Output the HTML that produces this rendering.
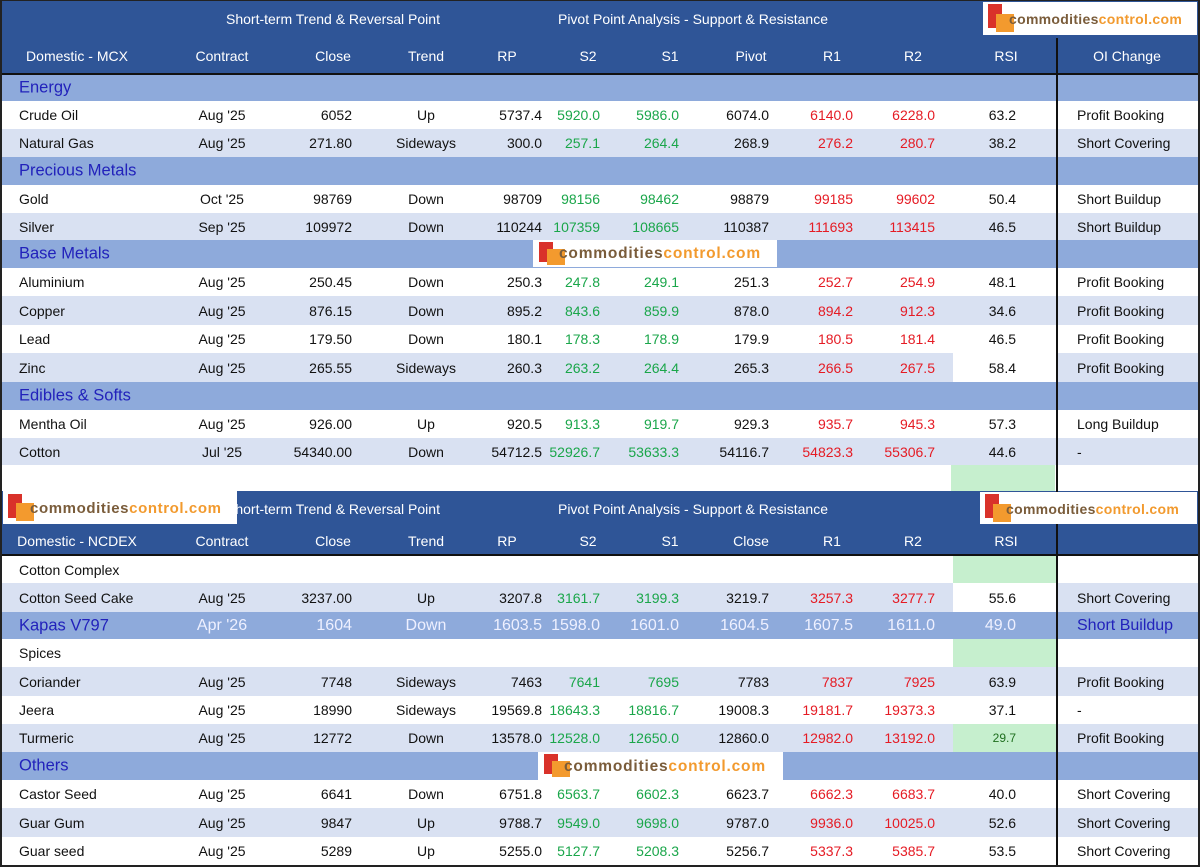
<!DOCTYPE html>
<html><head><meta charset="utf-8"><style>
*{margin:0;padding:0;box-sizing:border-box}
body{width:1200px;height:867px;background:#fff;position:relative;overflow:hidden;font-family:"Liberation Sans",Arial,sans-serif;font-size:14px;color:#111}
.r{position:absolute;left:2px;width:1196px;}
.r span{position:absolute;top:50%;transform:translateY(-50%);white-space:nowrap}
.w{background:#fff}.l{background:#d9e1f2}.k{background:#8eaadb}.h{background:#2f5597;color:#fff}
.cat{color:#2222bb;font-size:16.5px}
.c0{left:17px}
.c1{left:170px;width:100px;text-align:center}
.c2{left:250px;width:100px;text-align:right}
.c3{left:374px;width:100px;text-align:center}
.c4{left:440px;width:100px;text-align:right}
.c5{left:498px;width:100px;text-align:right;color:#1aa64a}
.c6{left:577px;width:100px;text-align:right;color:#1aa64a}
.c7{left:667px;width:100px;text-align:right}
.c8{left:751px;width:100px;text-align:right;color:#e51b24}
.c9{left:833px;width:100px;text-align:right;color:#e51b24}
.c10{left:914px;width:100px;text-align:right}
.c11{left:1075px}
.hc{width:140px;text-align:center;margin-left:-70px}
.g{position:absolute;left:951px;width:104px;background:#c6efce}
.wc{position:absolute;left:951px;width:104px;background:#fff;top:0;bottom:0}
.vl{position:absolute;left:1056px;width:2px;background:#111}
.logo{position:absolute;background:#fff;overflow:hidden}
.logo .b1{position:absolute;background:#d9322a}
.logo .b2{position:absolute;background:#f39a2e}
.logo .t{position:absolute;font-weight:bold;font-size:14px;letter-spacing:0.3px;white-space:nowrap}
.logo .t b{color:#7a5c3a}.logo .t i{font-style:normal;color:#f29a2e}
.kap span{color:#eef0ff}
</style></head><body>
<div class="r h" style="top:0;height:74px;left:0;width:1200px">
<span style="left:333px;top:19px;width:300px;margin-left:-150px;text-align:center">Short-term Trend &amp; Reversal Point</span>
<span style="left:693px;top:19px;width:330px;margin-left:-165px;text-align:center">Pivot Point Analysis - Support &amp; Resistance</span>
<span class="hc" style="left:77px;top:56px">Domestic - MCX</span>
<span class="hc" style="left:222px;top:56px">Contract</span>
<span class="hc" style="left:333px;top:56px">Close</span>
<span class="hc" style="left:426px;top:56px">Trend</span>
<span class="hc" style="left:507px;top:56px">RP</span>
<span class="hc" style="left:588px;top:56px">S2</span>
<span class="hc" style="left:670px;top:56px">S1</span>
<span class="hc" style="left:751px;top:56px">Pivot</span>
<span class="hc" style="left:832px;top:56px">R1</span>
<span class="hc" style="left:913px;top:56px">R2</span>
<span class="hc" style="left:1006px;top:56px">RSI</span>
<span class="hc" style="left:1127px;top:56px">OI Change</span>
</div>
<div style="position:absolute;left:0;top:73px;width:1200px;height:2px;background:#111"></div>

<div class="r k" style="top:75px;height:26px"><span class="c0 cat">Energy</span></div>
<div class="r w" style="top:101px;height:28px"><span class="c0">Crude Oil</span><span class="c1">Aug '25</span><span class="c2">6052</span><span class="c3">Up</span><span class="c4">5737.4</span><span class="c5">5920.0</span><span class="c6">5986.0</span><span class="c7">6074.0</span><span class="c8">6140.0</span><span class="c9">6228.0</span><span class="c10">63.2</span><span class="c11">Profit Booking</span></div>
<div class="r l" style="top:129px;height:28px"><span class="c0">Natural Gas</span><span class="c1">Aug '25</span><span class="c2">271.80</span><span class="c3">Sideways</span><span class="c4">300.0</span><span class="c5">257.1</span><span class="c6">264.4</span><span class="c7">268.9</span><span class="c8">276.2</span><span class="c9">280.7</span><span class="c10">38.2</span><span class="c11">Short Covering</span></div>
<div class="r k" style="top:157px;height:28px"><span class="c0 cat">Precious Metals</span></div>
<div class="r w" style="top:185px;height:28px"><span class="c0">Gold</span><span class="c1">Oct '25</span><span class="c2">98769</span><span class="c3">Down</span><span class="c4">98709</span><span class="c5">98156</span><span class="c6">98462</span><span class="c7">98879</span><span class="c8">99185</span><span class="c9">99602</span><span class="c10">50.4</span><span class="c11">Short Buildup</span></div>
<div class="r l" style="top:213px;height:27px"><span class="c0">Silver</span><span class="c1">Sep '25</span><span class="c2">109972</span><span class="c3">Down</span><span class="c4">110244</span><span class="c5">107359</span><span class="c6">108665</span><span class="c7">110387</span><span class="c8">111693</span><span class="c9">113415</span><span class="c10">46.5</span><span class="c11">Short Buildup</span></div>
<div class="r k" style="top:240px;height:28px"><span class="c0 cat">Base Metals</span></div>
<div class="r w" style="top:268px;height:28px"><span class="c0">Aluminium</span><span class="c1">Aug '25</span><span class="c2">250.45</span><span class="c3">Down</span><span class="c4">250.3</span><span class="c5">247.8</span><span class="c6">249.1</span><span class="c7">251.3</span><span class="c8">252.7</span><span class="c9">254.9</span><span class="c10">48.1</span><span class="c11">Profit Booking</span></div>
<div class="r l" style="top:296px;height:29px"><span class="c0">Copper</span><span class="c1">Aug '25</span><span class="c2">876.15</span><span class="c3">Down</span><span class="c4">895.2</span><span class="c5">843.6</span><span class="c6">859.9</span><span class="c7">878.0</span><span class="c8">894.2</span><span class="c9">912.3</span><span class="c10">34.6</span><span class="c11">Profit Booking</span></div>
<div class="r w" style="top:325px;height:28px"><span class="c0">Lead</span><span class="c1">Aug '25</span><span class="c2">179.50</span><span class="c3">Down</span><span class="c4">180.1</span><span class="c5">178.3</span><span class="c6">178.9</span><span class="c7">179.9</span><span class="c8">180.5</span><span class="c9">181.4</span><span class="c10">46.5</span><span class="c11">Profit Booking</span></div>
<div class="r l" style="top:353px;height:29px"><div class="wc"></div><span class="c0">Zinc</span><span class="c1">Aug '25</span><span class="c2">265.55</span><span class="c3">Sideways</span><span class="c4">260.3</span><span class="c5">263.2</span><span class="c6">264.4</span><span class="c7">265.3</span><span class="c8">266.5</span><span class="c9">267.5</span><span class="c10">58.4</span><span class="c11">Profit Booking</span></div>
<div class="r k" style="top:382px;height:28px"><span class="c0 cat">Edibles &amp; Softs</span></div>
<div class="r w" style="top:410px;height:28px"><span class="c0">Mentha Oil</span><span class="c1">Aug '25</span><span class="c2">926.00</span><span class="c3">Up</span><span class="c4">920.5</span><span class="c5">913.3</span><span class="c6">919.7</span><span class="c7">929.3</span><span class="c8">935.7</span><span class="c9">945.3</span><span class="c10">57.3</span><span class="c11">Long Buildup</span></div>
<div class="r l" style="top:438px;height:27px"><span class="c0">Cotton</span><span class="c1">Jul '25</span><span class="c2">54340.00</span><span class="c3">Down</span><span class="c4">54712.5</span><span class="c5">52926.7</span><span class="c6">53633.3</span><span class="c7">54116.7</span><span class="c8">54823.3</span><span class="c9">55306.7</span><span class="c10">44.6</span><span class="c11">-</span></div>
<div class="g" style="top:465px;height:26px"></div>

<div class="r h" style="top:491px;height:64px;left:0;width:1200px">
<span style="left:333px;top:18px;width:300px;margin-left:-150px;text-align:center">Short-term Trend &amp; Reversal Point</span>
<span style="left:693px;top:18px;width:330px;margin-left:-165px;text-align:center">Pivot Point Analysis - Support &amp; Resistance</span>
<span class="hc" style="left:77px;top:50px">Domestic - NCDEX</span>
<span class="hc" style="left:222px;top:50px">Contract</span>
<span class="hc" style="left:333px;top:50px">Close</span>
<span class="hc" style="left:426px;top:50px">Trend</span>
<span class="hc" style="left:507px;top:50px">RP</span>
<span class="hc" style="left:588px;top:50px">S2</span>
<span class="hc" style="left:670px;top:50px">S1</span>
<span class="hc" style="left:751px;top:50px">Close</span>
<span class="hc" style="left:832px;top:50px">R1</span>
<span class="hc" style="left:913px;top:50px">R2</span>
<span class="hc" style="left:1006px;top:50px">RSI</span>
</div>
<div style="position:absolute;left:0;top:554px;width:1200px;height:2px;background:#111"></div>

<div class="r w" style="top:556px;height:27px"><div class="wc" style="background:#c6efce"></div><span class="c0">Cotton Complex</span></div>
<div class="r l" style="top:583px;height:29px"><div class="wc"></div><span class="c0">Cotton Seed Cake</span><span class="c1">Aug '25</span><span class="c2">3237.00</span><span class="c3">Up</span><span class="c4">3207.8</span><span class="c5">3161.7</span><span class="c6">3199.3</span><span class="c7">3219.7</span><span class="c8">3257.3</span><span class="c9">3277.7</span><span class="c10">55.6</span><span class="c11">Short Covering</span></div>
<div class="r k kap" style="top:612px;height:27px;font-size:16px"><span class="c0 cat" style="color:#2222bb">Kapas V797</span><span class="c1">Apr '26</span><span class="c2">1604</span><span class="c3">Down</span><span class="c4">1603.5</span><span class="c5" style="color:#eef0ff">1598.0</span><span class="c6" style="color:#eef0ff">1601.0</span><span class="c7">1604.5</span><span class="c8" style="color:#eef0ff">1607.5</span><span class="c9" style="color:#eef0ff">1611.0</span><span class="c10">49.0</span><span class="c11" style="color:#2222bb">Short Buildup</span></div>
<div class="r w" style="top:639px;height:28px"><div class="wc" style="background:#c6efce"></div><span class="c0">Spices</span></div>
<div class="r l" style="top:667px;height:29px"><span class="c0">Coriander</span><span class="c1">Aug '25</span><span class="c2">7748</span><span class="c3">Sideways</span><span class="c4">7463</span><span class="c5">7641</span><span class="c6">7695</span><span class="c7">7783</span><span class="c8">7837</span><span class="c9">7925</span><span class="c10">63.9</span><span class="c11">Profit Booking</span></div>
<div class="r w" style="top:696px;height:28px"><span class="c0">Jeera</span><span class="c1">Aug '25</span><span class="c2">18990</span><span class="c3">Sideways</span><span class="c4">19569.8</span><span class="c5">18643.3</span><span class="c6">18816.7</span><span class="c7">19008.3</span><span class="c8">19181.7</span><span class="c9">19373.3</span><span class="c10">37.1</span><span class="c11">-</span></div>
<div class="r l" style="top:724px;height:28px"><div class="wc" style="background:#c6efce"></div><span class="c0">Turmeric</span><span class="c1">Aug '25</span><span class="c2">12772</span><span class="c3">Down</span><span class="c4">13578.0</span><span class="c5">12528.0</span><span class="c6">12650.0</span><span class="c7">12860.0</span><span class="c8">12982.0</span><span class="c9">13192.0</span><span class="c10" style="font-size:12px;color:#1e6e1e">29.7</span><span class="c11">Profit Booking</span></div>
<div class="r k" style="top:752px;height:28px"><span class="c0 cat">Others</span></div>
<div class="r w" style="top:780px;height:28px"><span class="c0">Castor Seed</span><span class="c1">Aug '25</span><span class="c2">6641</span><span class="c3">Down</span><span class="c4">6751.8</span><span class="c5">6563.7</span><span class="c6">6602.3</span><span class="c7">6623.7</span><span class="c8">6662.3</span><span class="c9">6683.7</span><span class="c10">40.0</span><span class="c11">Short Covering</span></div>
<div class="r l" style="top:808px;height:29px"><span class="c0">Guar Gum</span><span class="c1">Aug '25</span><span class="c2">9847</span><span class="c3">Up</span><span class="c4">9788.7</span><span class="c5">9549.0</span><span class="c6">9698.0</span><span class="c7">9787.0</span><span class="c8">9936.0</span><span class="c9">10025.0</span><span class="c10">52.6</span><span class="c11">Short Covering</span></div>
<div class="r w" style="top:837px;height:28px"><span class="c0">Guar seed</span><span class="c1">Aug '25</span><span class="c2">5289</span><span class="c3">Up</span><span class="c4">5255.0</span><span class="c5">5127.7</span><span class="c6">5208.3</span><span class="c7">5256.7</span><span class="c8">5337.3</span><span class="c9">5385.7</span><span class="c10">53.5</span><span class="c11">Short Covering</span></div>

<div class="vl" style="top:38px;height:829px"></div>
<div style="position:absolute;left:0;top:0;width:2px;height:867px;background:#222"></div>
<div style="position:absolute;right:0;top:0;width:2px;height:867px;background:#222"></div>
<div style="position:absolute;left:0;top:0;width:1200px;height:1px;background:#222"></div>
<div style="position:absolute;left:0;bottom:0;width:1200px;height:2px;background:#222"></div>

<div class="logo" style="left:983px;top:2px;width:214px;height:33px"><div class="b1" style="left:5px;top:2px;width:14px;height:24px"></div><div class="b2" style="left:13px;top:12px;width:18px;height:18px"></div><div class="t" style="left:26px;top:9px"><b>commodities</b><i>control.com</i></div></div>
<div class="logo" style="left:533px;top:240px;width:244px;height:27px"><div class="b1" style="left:6px;top:2px;width:14px;height:20px"></div><div class="b2" style="left:14px;top:9px;width:18px;height:16px"></div><div class="t" style="left:26px;top:5px;font-size:15.5px;letter-spacing:0.8px"><b>commodities</b><i>control.com</i></div></div>
<div class="logo" style="left:3px;top:491px;width:234px;height:33px"><div class="b1" style="left:5px;top:3px;width:14px;height:24px"></div><div class="b2" style="left:13px;top:12px;width:18px;height:18px"></div><div class="t" style="left:27px;top:9px;font-size:15px;letter-spacing:0.6px"><b>commodities</b><i>control.com</i></div></div>
<div class="logo" style="left:980px;top:492px;width:217px;height:32px"><div class="b1" style="left:5px;top:2px;width:14px;height:24px"></div><div class="b2" style="left:13px;top:12px;width:18px;height:18px"></div><div class="t" style="left:26px;top:9px"><b>commodities</b><i>control.com</i></div></div>
<div class="logo" style="left:538px;top:752px;width:245px;height:28px"><div class="b1" style="left:6px;top:2px;width:14px;height:20px"></div><div class="b2" style="left:14px;top:9px;width:18px;height:16px"></div><div class="t" style="left:26px;top:6px;font-size:15.5px;letter-spacing:0.8px"><b>commodities</b><i>control.com</i></div></div>
</body></html>
